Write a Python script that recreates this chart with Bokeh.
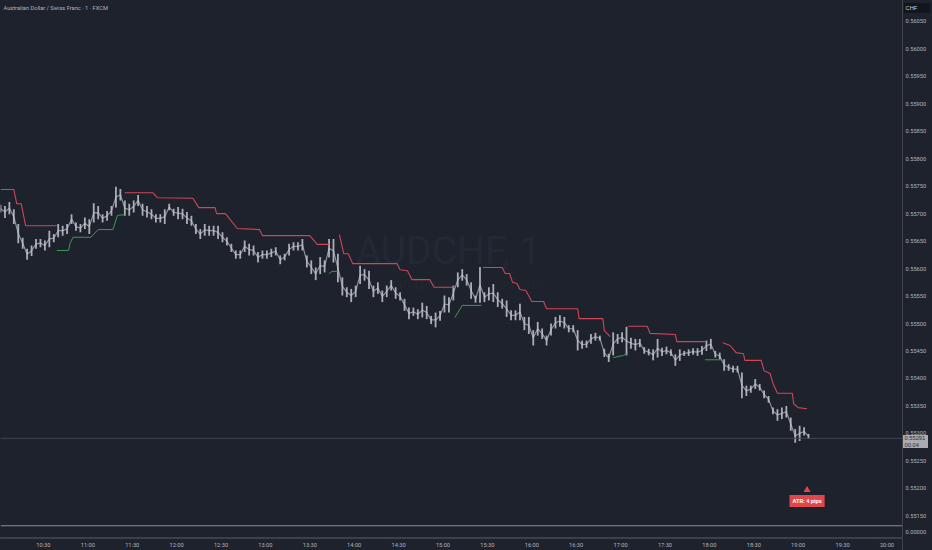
from bokeh.plotting import figure
from bokeh.layouts import column
from bokeh.models import Label, Span, FixedTicker, Range1d, InlineStyleSheet, Div
from bokeh.embed import file_html
from bokeh.resources import INLINE

# Prices are in 1e-5 CHF; bars sampled every 3 minutes, minutes counted from 10:00
bar_high = [
 55716,55714,55721,55708,55681,55656,55636,55642,55654,55654,
 55651,55669,55663,55681,55678,55681,55699,55684,55681,55693,
 55690,55719,55714,55699,55705,55714,55749,55745,55724,55718,
 55724,55734,55718,55714,55708,55699,55699,55708,
 55718,55709,55712,55709,55703,55696,55681,55672,55681,55678,
 55678,55678,55666,55657,55645,55633,55633,55651,55645,55642,
 55630,55633,55633,55636,55639,55624,55627,55645,55648,55648,
 55654,55624,55615,55602,55621,55615,55654,55654,
 55627,55584,55566,55563,55569,55605,55599,55596,55569,55575,
 55560,55569,55579,55566,55557,55545,55529,55529,55526,55538,
 55532,55514,55520,55523,55551,55548,55569,55593,55599,55590,
 55575,55551,55603,
 55557,55566,55572,55557,55545,55542,55524,55524,55536,55512,
 55512,55488,55503,55491,55478,55500,55512,55515,55512,55497,
 55497,55488,55469,55469,55481,55483,55478,55454,55445,55484,
 55481,55484,55494,55474,55472,55472,55457,55454,
 55453,55472,55456,55458,55453,55444,55453,55450,55453,55455,
 55455,55459,55469,55472,55450,55447,55435,55426,55423,55423,
 55411,55387,55387,55399,55390,55378,55368,55347,55344,55347,
 55350,55329,55308,55314,55311,55299]
bar_low = [
 55702,55692,55699,55681,55646,55636,55616,55623,55636,55639,
 55633,55639,55648,55657,55660,55663,55681,55669,55666,55672,
 55663,55684,55690,55684,55687,55696,55711,55724,55696,55696,
 55702,55714,55696,55693,55690,55684,55684,55681,
 55706,55696,55690,55690,55681,55678,55663,55654,55660,55660,
 55660,55654,55648,55642,55630,55618,55618,55630,55624,55624,
 55611,55618,55618,55621,55624,55608,55615,55624,55633,55633,
 55633,55602,55590,55579,55590,55593,55620,55611,
 55575,55551,55548,55539,55548,55572,55578,55563,55548,55554,
 55539,55548,55560,55545,55542,55523,55508,55514,55508,55511,
 55508,55499,55493,55505,55520,55520,55542,55566,55578,55569,
 55545,55538,55538,
 55539,55542,55539,55530,55527,55512,55506,55506,55506,55488,
 55481,55460,55478,55472,55460,55478,55491,55494,55491,55484,
 55484,55451,55454,55456,55463,55469,55469,55439,55430,55442,
 55463,55466,55442,55454,55451,55457,55445,55442,
 55433,55438,55441,55444,55441,55423,55432,55441,55441,55443,
 55441,55443,55450,55453,55438,55435,55414,55414,55411,55411,
 55364,55368,55374,55381,55378,55364,55356,55335,55323,55326,
 55329,55305,55283,55286,55296,55290]
bar_minute = list(range(1, 1 + 3 * len(bar_high), 3))

red_minutes = [
 [1,10,12,15,18,39],
 [85,104,107,131,135,146,147,153,161,176,178,210,215,223],
 [230,233,236,239,269,271,276,279,291,294,308],
 [327,340,342,345,347,350,352,356,360,368,370,391,392,408,409,413],
 [425,438,440,457,458,477],
 [489,494,498,503,504,515,517,521,523,526,536,537,540,546]]
red_prices = [
 [55744,55744,55718,55718,55678,55678],
 [55738,55738,55729,55728,55711,55711,55700,55700,55673,55671,55660,55660,55644,55644],
 [55662,55627,55627,55609,55609,55598,55596,55580,55580,55566,55566],
 [55602,55602,55591,55591,55575,55573,55562,55560,55540,55540,55527,55527,55509,55509,55487,55476],
 [55495,55495,55482,55480,55467,55467],
 [55465,55460,55447,55445,55433,55433,55414,55409,55391,55373,55373,55354,55347,55345]]
green_minutes = [
 [39,47,48,50,62,67,77,80,85],
 [223,225,229],
 [308,313,326],
 [415,422,425],
 [477,488]]
green_prices = [
 [55633,55633,55646,55657,55657,55671,55671,55697,55698],
 [55591,55595,55595],
 [55511,55533,55533],
 [55438,55442,55447],
 [55434,55434]]

price_ticks = [55150,55200,55250,55300,55350,55400,55450,55500,55550,55600,
               55650,55700,55750,55800,55850,55900,55950,56000,56050]
time_ticks = list(range(30, 601, 30))
time_labels = ["10:30","11:00","11:30","12:00","12:30","13:00","13:30","14:00","14:30","15:00",
               "15:30","16:00","16:30","17:00","17:30","18:00","18:30","19:00","19:30","20:00"]
last_price = 55291
title_text = "Australian Dollar / Swiss Franc · 1 · FXCM"

AX = "#3c404b"
TXT = "#b2b5be"
FONT = "Roboto"
FS = "5.7px"
SCALE = 1e5

def style_axis(ax):
    ax.major_label_text_color = TXT
    ax.major_label_text_font = FONT
    ax.major_label_text_font_size = FS
    ax.major_tick_line_color = None
    ax.minor_tick_line_color = None
    ax.major_tick_out = 0
    ax.major_tick_in = 0
    ax.minor_tick_out = 0
    ax.minor_tick_in = 0
    ax.major_label_standoff = 3
    ax.axis_line_color = AX

def tag(text, left, top, w, h, bg, fg, lh="6.5px"):
    css = (f":host{{position:absolute !important;left:{left}px;top:{top}px;width:{w}px;height:{h}px;"
           f"background:{bg};color:{fg};font:{FS}/{lh} {FONT};padding:0;margin:0;overflow:hidden}}"
           f"div{{margin:0;padding:0}}")
    return Div(text=text, width=w, height=h, stylesheets=[InlineStyleSheet(css=css)])

xr = Range1d(1, 610.5)
p = figure(width=932, height=523, frame_width=902, frame_height=523,
           output_backend="svg", toolbar_location=None, x_range=xr,
           y_range=Range1d(0.55136, 0.56088), x_axis_location=None,
           y_axis_location="right", background_fill_color=None, border_fill_color=None,
           min_border=0, outline_line_color=None)
p.grid.visible = False
p.yaxis.ticker = FixedTicker(ticks=[t / SCALE for t in price_ticks])
p.yaxis.major_label_overrides = {t / SCALE: f"{t / SCALE:.5f}" for t in price_ticks}
style_axis(p.yaxis[0])

# watermark
p.add_layout(Label(x=448, y=523 - 250, x_units="screen", y_units="screen", text="AUDCHF, 1",
                   text_color="#242833", text_font=FONT, text_font_size="39px",
                   text_align="center", text_baseline="middle", level="underlay"))
p.add_layout(Label(x=445, y=523 - 283, x_units="screen", y_units="screen",
                   text="Australian Dollar / Swiss Franc", text_color="#22262f",
                   text_font=FONT, text_font_size="15px", text_align="center",
                   text_baseline="middle", level="underlay"))

p.add_layout(Span(location=last_price / SCALE, dimension="width", line_color="#434651", line_width=1))

bar_mid = [(h + l) / 2 / SCALE for h, l in zip(bar_high, bar_low)]
p.line(bar_minute, bar_mid, line_color="#a9acb4", line_width=1.2, line_alpha=0.8)
p.segment(x0=bar_minute, x1=bar_minute,
          y0=[v / SCALE for v in bar_low], y1=[v / SCALE for v in bar_high],
          line_color="#c4c7ce", line_width=1.8, line_alpha=0.85)

for xs, ys in zip(red_minutes, red_prices):
    p.line(xs, [v / SCALE for v in ys], line_color="#cf4656", line_width=1.1)
for xs, ys in zip(green_minutes, green_prices):
    p.line(xs, [v / SCALE for v in ys], line_color="#3f9a50", line_width=1.0)

# title
p.add_layout(Label(x=3, y=523 - 7, x_units="screen", y_units="screen", text=title_text,
                   text_color=TXT, text_font=FONT, text_font_size=FS, text_baseline="middle"))
# ATR tag
p.scatter([546], [0.55197], marker="triangle", size=7, fill_color="#e0474c", line_color=None)
p.add_layout(Label(x=546, y=0.55177, text="ATR: 4 pips", text_color="#ffffff", text_font=FONT,
                   text_font_size=FS, text_font_style="bold", text_align="center",
                   text_baseline="middle", background_fill_color="#e0474c", padding=3))

p2 = figure(width=932, height=27, frame_width=902, frame_height=14,
            output_backend="svg", toolbar_location=None, x_range=xr,
            y_range=Range1d(-1, 1.2), y_axis_location="right",
            background_fill_color=None, border_fill_color=None, min_border=0, outline_line_color=None)
p2.grid.visible = False
p2.yaxis.ticker = FixedTicker(ticks=[0])
p2.yaxis.major_label_overrides = {0: "0.00000"}
style_axis(p2.yaxis[0])
p2.xaxis.ticker = FixedTicker(ticks=time_ticks)
p2.xaxis.major_label_overrides = dict(zip(time_ticks, time_labels))
style_axis(p2.xaxis[0])
p2.add_layout(Span(location=1.0, dimension="width", line_color="#8a8d96", line_width=1))
p2.line([1], [0], line_alpha=0)

v_rule = tag("", 902, 0, 1, 550, AX, AX)
h_rule = tag("", 0, 537, 902, 1, AX, AX)
chf_tag = tag("&nbsp;CHF", 904, 3, 26, 10, "#12151c", "#d1d4dc", lh="10px")
price_tag = tag("&nbsp;0.55291<br>&nbsp;00:04", 903, 435, 25, 13, "#a9abb0", "#2a2e39")

layout = column(p, p2, v_rule, h_rule, chf_tag, price_tag, spacing=0,
                stylesheets=[InlineStyleSheet(css=":host{position:fixed !important;left:0;top:0;background:#1e222d;width:932px;height:550px}")])
open("out.html", "w").write(file_html(layout, INLINE))
